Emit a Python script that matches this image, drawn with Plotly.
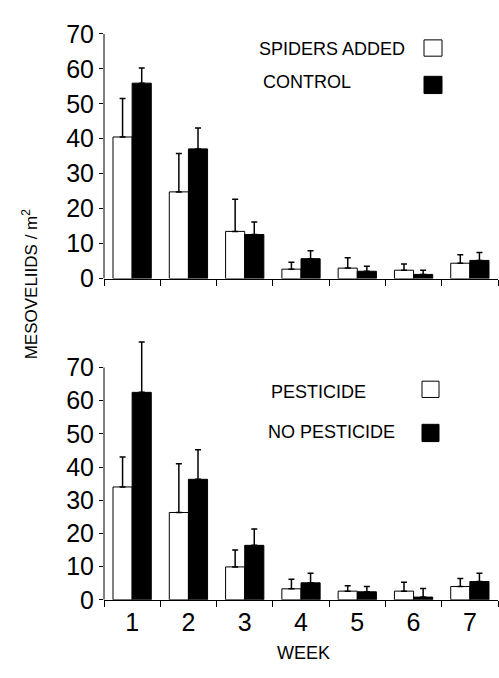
import plotly.graph_objects as go

weeks = ["1", "2", "3", "4", "5", "6", "7"]

# Top panel
spiders_added = [40.5, 24.8, 13.5, 2.7, 3.0, 2.4, 4.4]
spiders_added_err = [11.0, 11.0, 9.2, 2.0, 3.0, 1.8, 2.4]
control = [55.9, 37.1, 12.6, 5.7, 2.1, 1.2, 5.2]
control_err = [4.3, 6.0, 3.6, 2.3, 1.4, 1.2, 2.3]

# Bottom panel
pesticide = [34.0, 26.3, 9.9, 3.3, 2.6, 2.6, 4.0]
pesticide_err = [9.0, 14.7, 5.1, 2.9, 1.6, 2.7, 2.4]
no_pesticide = [62.5, 36.3, 16.4, 5.1, 2.4, 0.8, 5.5]
no_pesticide_err = [15.2, 8.9, 4.9, 2.9, 1.6, 2.6, 2.5]

y_ticks = [0, 10, 20, 30, 40, 50, 60, 70]
y_axis_max = 70

FONT = "Liberation Sans, Arial, sans-serif"
W, H = 499, 678


def bar(x, y, err, fill, xa, ya):
    return go.Bar(
        x=x, y=y, xaxis=xa, yaxis=ya, cliponaxis=False,
        marker=dict(color=fill, line=dict(color="black", width=1)),
        error_y=dict(type="data", array=err, arrayminus=[0] * len(err),
                     symmetric=False, color="black", thickness=1.5, width=3),
        showlegend=False,
    )


fig = go.Figure()
fig.add_trace(bar(weeks, spiders_added, spiders_added_err, "white", "x", "y"))
fig.add_trace(bar(weeks, control, control_err, "black", "x", "y"))
fig.add_trace(bar(weeks, pesticide, pesticide_err, "white", "x2", "y2"))
fig.add_trace(bar(weeks, no_pesticide, no_pesticide_err, "black", "x2", "y2"))

x_left, x_right = 104, 498
# top panel: 0 at y=276px, 70 at y=20.7px
top_px_per_unit = (276 - 20.7) / 70
top_max = 70
top_dom = [1 - 276 / H, 1 - (276 - top_max * top_px_per_unit) / H]
# bottom panel: 0 at y=611px, 70 at y=368.7px; extra headroom for error bar
bot_px_per_unit = (611 - 368.7) / 70
bot_max = 80
bot_dom = [1 - 611 / H, 1 - (611 - bot_max * bot_px_per_unit) / H]

xcommon = dict(
    domain=[x_left / W, x_right / W], showline=True, linecolor="black",
    linewidth=1, ticks="outside", tickson="boundaries", ticklen=6,
    tickcolor="black", tickwidth=1, showgrid=False, zeroline=False,
    tickfont=dict(family=FONT, size=25, color="black"),
)
ycommon = dict(
    tickvals=y_ticks, showline=False, ticks="outside", ticklen=4,
    tickcolor="black", showgrid=False, zeroline=False,
    tickfont=dict(family=FONT, size=25, color="black"),
)

fig.update_layout(
    width=W, height=H,
    margin=dict(l=0, r=0, t=0, b=0),
    paper_bgcolor="white", plot_bgcolor="white",
    barmode="group", bargap=0.32, bargroupgap=0,
    xaxis=dict(xcommon, anchor="y", showticklabels=False),
    yaxis=dict(ycommon, range=[0, top_max], domain=top_dom, anchor="x"),
    xaxis2=dict(xcommon, anchor="y2", showticklabels=True),
    yaxis2=dict(ycommon, range=[0, bot_max], domain=bot_dom, anchor="x2"),
)

# y axis lines running from 0 to 70
for xr, yr in (("x domain", "y"), ("x2 domain", "y2")):
    fig.add_shape(type="line", xref=xr, yref=yr, x0=0, x1=0, y0=0,
                  y1=y_axis_max, line=dict(color="black", width=1))

annotations = [
    dict(text="MESOVELIIDS / m<sup>2</sup>", x=30 / W, y=1 - 282 / H,
         textangle=-90, font=dict(family=FONT, size=17, color="black")),
    dict(text="WEEK", x=303 / W, y=1 - 667 / H,
         font=dict(family=FONT, size=18, color="black")),
    dict(text="SPIDERS ADDED", x=257 / W, y=1 - 37 / H, xanchor="left",
         font=dict(family=FONT, size=18, color="black")),
    dict(text="CONTROL", x=260.5 / W, y=1 - 71 / H, xanchor="left",
         font=dict(family=FONT, size=18, color="black")),
    dict(text="PESTICIDE", x=269 / W, y=1 - 394 / H, xanchor="left",
         font=dict(family=FONT, size=18, color="black")),
    dict(text="NO PESTICIDE", x=266 / W, y=1 - 436 / H, xanchor="left",
         font=dict(family=FONT, size=18, color="black")),
]
for a in annotations:
    a.update(xref="paper", yref="paper", showarrow=False, yanchor="middle")
    a.setdefault("xanchor", "center")
fig.update_layout(annotations=annotations)

legend_boxes = [
    (424, 27, 442, 44, "white"),
    (424, 65, 442, 83, "black"),
    (422, 383, 439, 400, "white"),
    (422, 428, 439, 446, "black"),
]
for x0, y0, x1, y1, c in legend_boxes:
    fig.add_shape(type="rect", xref="paper", yref="paper",
                  x0=x0 / W, x1=x1 / W, y0=1 - y1 / H, y1=1 - y0 / H,
                  line=dict(color="black", width=1), fillcolor=c)

fig.write_html("out.html")
